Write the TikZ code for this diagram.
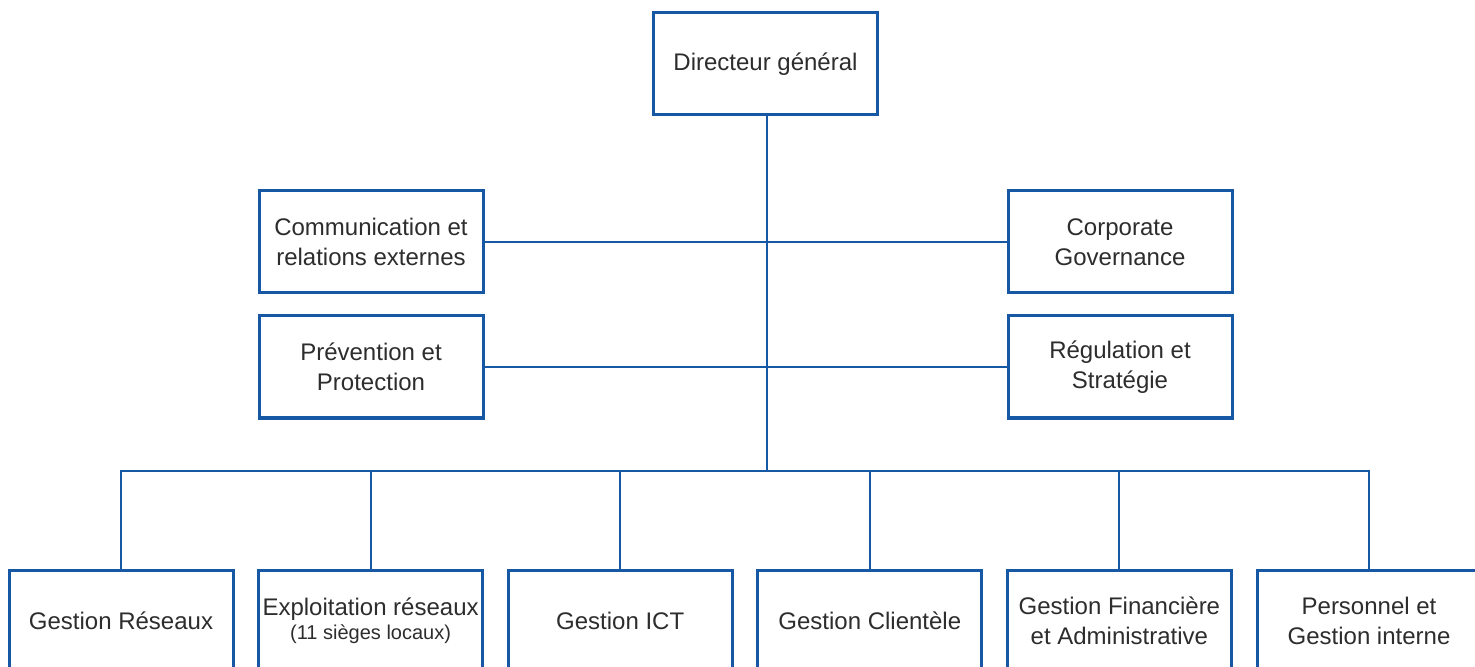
\documentclass[tikz,border=0pt]{standalone}
\usepackage{fontspec}
\setmainfont{Liberation Sans}
\usetikzlibrary{positioning}

\definecolor{orgblue}{RGB}{22,88,164}
\definecolor{orgtext}{RGB}{45,45,45}

\tikzset{
  unit/.style={rectangle, draw=orgblue, line width=1.5pt, fill=white,
    minimum width=112pt, minimum height=51pt, inner sep=2pt,
    align=center, text=orgtext, font=\fontsize{12}{15}\selectfont},
  link/.style={draw=orgblue, line width=1pt}
}

\begin{document}
\begin{tikzpicture}

      \useasboundingbox (0,0) rectangle (737.5pt,-333.5pt);

      % direction
      \node[unit] (DG) at (382.75pt,-32pt) {Directeur général};

      % staff
      \node[unit] (Comm) at (185.5pt,-121pt) {Communication et\\relations externes};
      \node[unit, node distance=374.5pt, right of=Comm] (Corp) {Corporate\\Governance};
      \node[unit, node distance=62.5pt, below of=Comm] (Prev) {Prévention et\\Protection};
      \node[unit, node distance=62.5pt, below of=Corp] (Reg) {Régulation et\\Stratégie};

      % departements
      \node[unit] (GR) at (60.5pt,-310.5pt) {Gestion Réseaux};
      \node[unit, node distance=124.8pt, right of=GR] (ER) {Exploitation réseaux\\[-3pt]{\fontsize{10}{12}\selectfont(11 sièges locaux)}};
      \node[unit, node distance=124.8pt, right of=ER] (ICT) {Gestion ICT};
      \node[unit, node distance=124.8pt, right of=ICT] (GC) {Gestion Clientèle};
      \node[unit, node distance=124.8pt, right of=GC] (GFA) {Gestion Financière\\et Administrative};
      \node[unit, node distance=124.8pt, right of=GFA] (PGI) {Personnel et\\Gestion interne};

      \coordinate (hub) at ([xshift=0.5pt]DG.south |- 0,-235.5pt);

      \draw[link] ([xshift=0.5pt]DG.south) -- (hub);
      \draw[link] (Comm.east) -- (Corp.west);
      \draw[link] (Prev.east) -- (Reg.west);
      \foreach \dep in {GR,ER,ICT,GC,GFA,PGI}
        \draw[link] (\dep.north) |- (hub);

\end{tikzpicture}
\end{document}
